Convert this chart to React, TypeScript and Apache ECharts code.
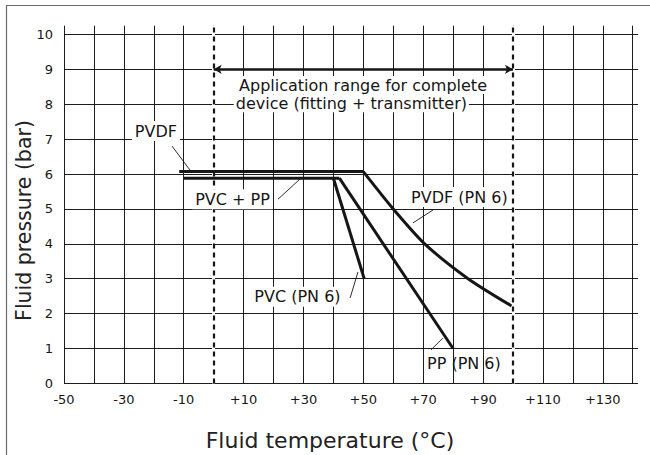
import React, { useEffect, useRef } from "react";
import * as echarts from "echarts";

// ---- data (x = fluid temperature °C, y = fluid pressure bar) ----
const yTickValues: number[] = [0, 1, 2, 3, 4, 5, 6, 7, 8, 9, 10];
const xLabelValues: number[] = [-50, -30, -10, 10, 30, 50, 70, 90, 110, 130];
const pvdfFlat: number[][] = [[-11.5, 6.07], [50, 6.07]];
const pvdfCurve: number[][] = [[50, 6.07], [60, 5.0], [70.5, 4.0], [85, 3.0], [99.5, 2.22]];
const pvcPpFlat: number[][] = [[-10, 5.88], [42, 5.88]];
const ppLine: number[][] = [[42, 5.88], [80, 1.0]];
const pvcLine: number[][] = [[40, 5.88], [50.3, 3.0]];
const rangeLimits: number[] = [0, 100];
const rangeArrowY = 9;

const FONT = "DejaVu Sans";
const INK = "#161616";

// annotation labels (anchors in data coordinates)
const labelTexts: string[] = ["PVDF", "PVC + PP", "PVDF (PN 6)", "PVC (PN 6)", "PP (PN 6)"];
const labelAnchors: number[][] = [[-19.3, 7.23], [6.3, 5.28], [82.1, 5.34], [28.0, 2.48], [83.6, 0.56]];
const labelBg: boolean[] = [true, true, true, true, false];
const leaderLines: number[][][] = [
  [[-13.9, 6.8], [-7.9, 6.11]],
  [[21.5, 5.28], [28.9, 5.86]],
  [[73.3, 4.97], [66.6, 4.6]],
  [[45.6, 2.45], [48.2, 3.19]],
  [[72.6, 0.96], [76.6, 1.3]],
];
const rangeText: string[] = ["Application range for complete", "device (fitting + transmitter)"];
const rangeTextAnchors: number[][] = [[49.9, 8.55], [46.0, 8.03]];

const thick = { color: INK, width: 3 };

export default function App() {
  const ref = useRef<HTMLDivElement>(null);
  useEffect(() => {
    if (!ref.current) return;
    const chart = echarts.init(ref.current, undefined, { renderer: "svg" });
    const gridLine = { show: true, lineStyle: { color: "#1c1c1c", width: 1 } };
    const option: any = {
      animation: false,
      backgroundColor: "#ffffff",
      grid: [
        { left: 64, right: 12, top: 34.4, bottom: 71.6 },
        { left: 64, width: 568.7, top: 25.7, bottom: 71.6 },
      ],
      xAxis: [
        { gridIndex: 0, type: "value", show: false, min: -50, max: 142 },
        {
          gridIndex: 1,
          type: "value",
          min: -50,
          max: 140,
          interval: 10,
          axisLine: { show: false },
          axisTick: { show: false },
          splitLine: gridLine,
          axisLabel: {
            margin: 10,
            color: INK,
            fontFamily: FONT,
            fontSize: 13,
            formatter: (v: number) =>
              xLabelValues.indexOf(v) >= 0 ? (v > 0 ? "+" + v : String(v)) : "",
          },
        },
      ],
      yAxis: [
        {
          gridIndex: 0,
          type: "value",
          min: yTickValues[0],
          max: yTickValues[yTickValues.length - 1],
          interval: 1,
          axisLine: { show: false },
          axisTick: { show: false },
          splitLine: gridLine,
          axisLabel: { margin: 11, color: INK, fontFamily: FONT, fontSize: 13 },
        },
        { gridIndex: 1, type: "value", show: false, min: 0, max: 10.25 },
      ],
      series: [
        {
          type: "line",
          xAxisIndex: 1,
          yAxisIndex: 1,
          data: [],
          symbol: "none",
          z: 3,
          markLine: {
            silent: true,
            symbol: "none",
            label: { show: false },
            lineStyle: { color: "#ffffff", width: 3, type: "solid" },
            data: rangeLimits.map((v) => ({ xAxis: v })),
          },
        },
        {
          type: "line",
          xAxisIndex: 1,
          yAxisIndex: 1,
          data: pvdfFlat,
          symbol: "none",
          lineStyle: thick,
          z: 5,
          markLine: {
            silent: true,
            symbol: "none",
            label: { show: false },
            lineStyle: { color: INK, width: 2.2, type: [5, 4] },
            data: rangeLimits.map((v) => ({ xAxis: v })),
          },
        },
        {
          type: "line",
          xAxisIndex: 1,
          yAxisIndex: 1,
          data: pvdfCurve,
          symbol: "none",
          smooth: 0.25,
          lineStyle: thick,
          z: 5,
        },
        { type: "line", xAxisIndex: 1, yAxisIndex: 1, data: pvcPpFlat, symbol: "none", lineStyle: thick, z: 5 },
        { type: "line", xAxisIndex: 1, yAxisIndex: 1, data: ppLine, symbol: "none", lineStyle: thick, z: 5 },
        {
          type: "line",
          xAxisIndex: 1,
          yAxisIndex: 1,
          data: pvcLine,
          symbol: "none",
          lineStyle: thick,
          z: 5,
          markLine: {
            silent: true,
            symbol: ["arrow", "arrow"],
            symbolSize: [7, 8],
            label: { show: false },
            lineStyle: { color: INK, width: 2.5, type: "solid" },
            data: [[{ coord: [rangeLimits[0], rangeArrowY] }, { coord: [rangeLimits[1], rangeArrowY] }]],
          },
        },
      ],
    };
    chart.setOption(option);

    const px = (p: number[]) => chart.convertToPixel({ xAxisIndex: 1, yAxisIndex: 1 }, p) as number[];
    const graphics: any[] = [
      {
        type: "rect",
        shape: { x: 6.5, y: 5.5, width: 700, height: 500 },
        style: { fill: "none", stroke: "#6a6a6a", lineWidth: 1.2 },
        z: 1,
      },
      {
        type: "text",
        x: 330,
        y: 440,
        style: {
          text: "Fluid temperature (°C)",
          font: `22px '${FONT}'`,
          fill: "#222",
          align: "center",
          verticalAlign: "middle",
        },
      },
      {
        type: "text",
        x: 24,
        y: 220.5,
        rotation: Math.PI / 2,
        style: {
          text: "Fluid pressure (bar)",
          font: `20.5px '${FONT}'`,
          fill: "#222",
          align: "center",
          verticalAlign: "middle",
        },
      },
    ];
    leaderLines.forEach((seg) => {
      const a = px(seg[0]);
      const b = px(seg[1]);
      graphics.push({
        type: "line",
        shape: { x1: a[0], y1: a[1], x2: b[0], y2: b[1] },
        style: { stroke: INK, lineWidth: 0.9 },
        z: 20,
      });
    });
    labelTexts.forEach((t, i) => {
      const p = px(labelAnchors[i]);
      graphics.push({
        type: "text",
        x: p[0],
        y: p[1],
        z: 30,
        style: {
          text: t,
          font: `16px '${FONT}'`,
          fill: INK,
          align: "center",
          verticalAlign: "middle",
          backgroundColor: labelBg[i] ? "#ffffff" : undefined,
          padding: labelBg[i] ? [2, 3] : 0,
        },
      });
    });
    rangeText.forEach((t, i) => {
      const p = px(rangeTextAnchors[i]);
      graphics.push({
        type: "text",
        x: p[0],
        y: p[1],
        z: 30 - i,
        style: {
          text: t,
          font: `16px '${FONT}'`,
          fill: INK,
          align: "center",
          verticalAlign: "middle",
          backgroundColor: "#ffffff",
          padding: [1, 2],
        },
      });
    });
    chart.setOption({ graphic: graphics });

    return () => chart.dispose();
  }, []);
  return (
    <div
      ref={ref}
      style={{ position: "absolute", left: 0, top: 0, width: 650, height: 455 }}
    />
  );
}
